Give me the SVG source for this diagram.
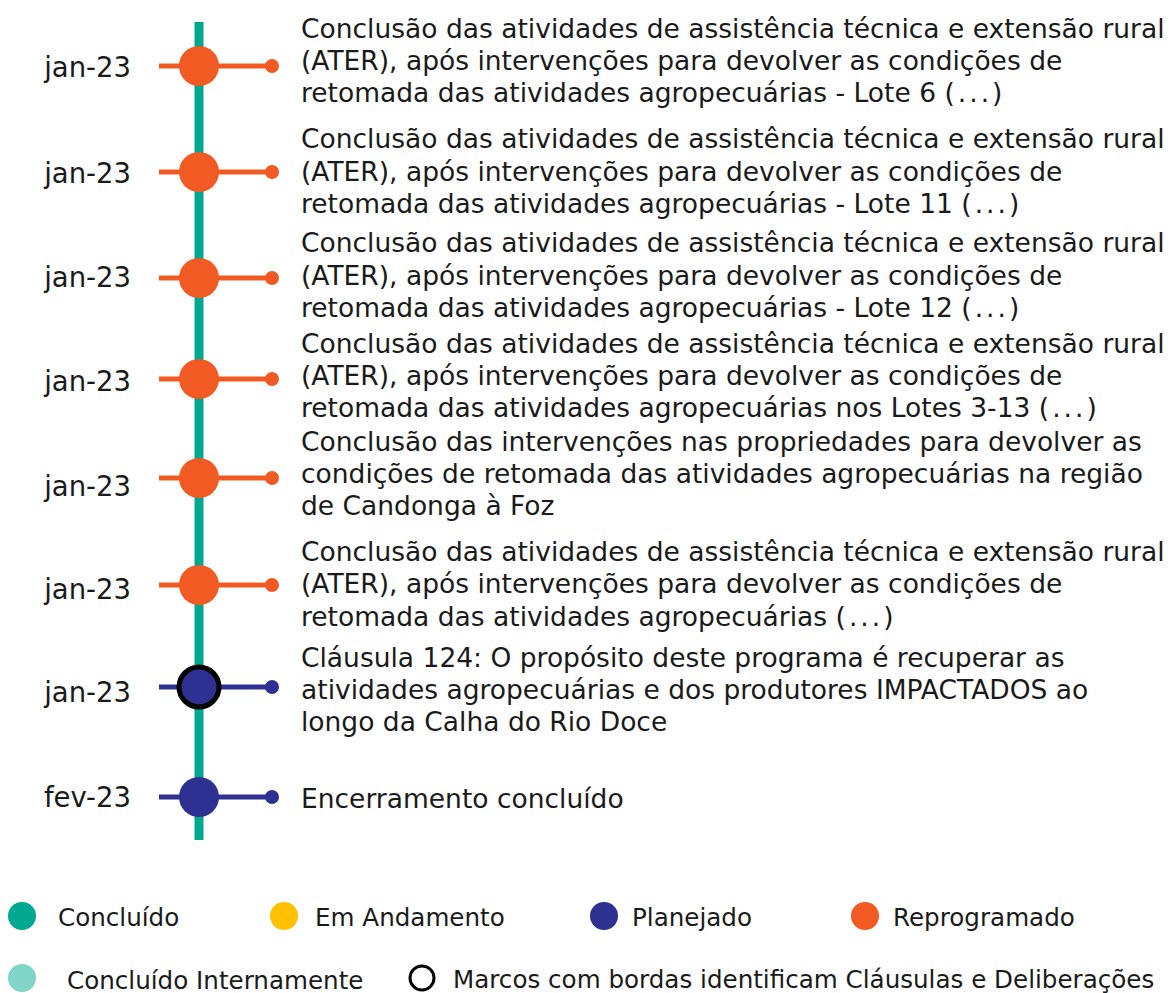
<svg xmlns="http://www.w3.org/2000/svg" width="1172" height="993" viewBox="0 0 1172 993">
<style>
.t{font-family:"DejaVu Sans",Verdana,sans-serif;font-size:26.5px;fill:#1a1a1a}
.d{font-family:"DejaVu Sans",Verdana,sans-serif;font-size:27.5px;fill:#1a1a1a;text-anchor:end}
.l{font-family:"DejaVu Sans",Verdana,sans-serif;font-size:24.6px;fill:#1a1a1a}
.e{letter-spacing:3px}
.ro{stroke:#F15A22;stroke-width:5}
.rb{stroke:#2E3192;stroke-width:5}
.fo{fill:#F15A22}
.fb{fill:#2E3192}
</style>
<rect width="1172" height="993" fill="#ffffff"/>
<g id="connectors">
<line x1="199" y1="22" x2="199" y2="840" stroke="#00A88F" stroke-width="9"/>
<line class="ro" x1="159" y1="66" x2="272" y2="66"/>
<line class="ro" x1="159" y1="172" x2="272" y2="172"/>
<line class="ro" x1="159" y1="278" x2="272" y2="278"/>
<line class="ro" x1="159" y1="379" x2="272" y2="379"/>
<line class="ro" x1="159" y1="478" x2="272" y2="478"/>
<line class="ro" x1="159" y1="585" x2="272" y2="585"/>
<line class="rb" x1="159" y1="687" x2="272" y2="687"/>
<line class="rb" x1="159" y1="797" x2="272" y2="797"/>
</g>
<g id="node1">
<circle class="fo" cx="199" cy="66" r="20"/><circle class="fo" cx="272" cy="66" r="7"/>
<text class="d" x="131" y="77">jan-23</text>
<text class="t" x="301" y="38">Conclusão das atividades de assistência técnica e extensão rural</text>
<text class="t" x="301" y="70">(ATER), após intervenções para devolver as condições de</text>
<text class="t" x="301" y="102">retomada das atividades agropecuárias - Lote 6 <tspan class="e">(...)</tspan></text>
</g>
<g id="node2">
<circle class="fo" cx="199" cy="172" r="20"/><circle class="fo" cx="272" cy="172" r="7"/>
<text class="d" x="131" y="183">jan-23</text>
<text class="t" x="301" y="148">Conclusão das atividades de assistência técnica e extensão rural</text>
<text class="t" x="301" y="181">(ATER), após intervenções para devolver as condições de</text>
<text class="t" x="301" y="213">retomada das atividades agropecuárias - Lote 11 <tspan class="e">(...)</tspan></text>
</g>
<g id="node3">
<circle class="fo" cx="199" cy="278" r="20"/><circle class="fo" cx="272" cy="278" r="7"/>
<text class="d" x="131" y="287">jan-23</text>
<text class="t" x="301" y="252">Conclusão das atividades de assistência técnica e extensão rural</text>
<text class="t" x="301" y="285">(ATER), após intervenções para devolver as condições de</text>
<text class="t" x="301" y="317">retomada das atividades agropecuárias - Lote 12 <tspan class="e">(...)</tspan></text>
</g>
<g id="node4">
<circle class="fo" cx="199" cy="379" r="20"/><circle class="fo" cx="272" cy="379" r="7"/>
<text class="d" x="131" y="391">jan-23</text>
<text class="t" x="301" y="353">Conclusão das atividades de assistência técnica e extensão rural</text>
<text class="t" x="301" y="385">(ATER), após intervenções para devolver as condições de</text>
<text class="t" x="301" y="417">retomada das atividades agropecuárias nos Lotes 3-13 <tspan class="e">(...)</tspan></text>
</g>
<g id="node5">
<circle class="fo" cx="199" cy="478" r="20"/><circle class="fo" cx="272" cy="478" r="7"/>
<text class="d" x="131" y="496">jan-23</text>
<text class="t" x="301" y="451">Conclusão das intervenções nas propriedades para devolver as</text>
<text class="t" x="301" y="483">condições de retomada das atividades agropecuárias na região</text>
<text class="t" x="301" y="515">de Candonga à Foz</text>
</g>
<g id="node6">
<circle class="fo" cx="199" cy="585" r="20"/><circle class="fo" cx="272" cy="585" r="7"/>
<text class="d" x="131" y="599">jan-23</text>
<text class="t" x="301" y="561">Conclusão das atividades de assistência técnica e extensão rural</text>
<text class="t" x="301" y="593">(ATER), após intervenções para devolver as condições de</text>
<text class="t" x="301" y="626">retomada das atividades agropecuárias <tspan class="e">(...)</tspan></text>
</g>
<g id="node7">
<circle class="fb" cx="199" cy="687" r="20" stroke="#000000" stroke-width="5"/><circle class="fb" cx="272" cy="687" r="7"/>
<text class="d" x="131" y="702">jan-23</text>
<text class="t" x="301" y="667">Cláusula 124: O propósito deste programa é recuperar as</text>
<text class="t" x="301" y="699">atividades agropecuárias e dos produtores IMPACTADOS ao</text>
<text class="t" x="301" y="731">longo da Calha do Rio Doce</text>
</g>
<g id="node8">
<circle class="fb" cx="199" cy="797" r="20"/><circle class="fb" cx="272" cy="797" r="7"/>
<text class="d" x="131" y="807">fev-23</text>
<text class="t" x="301" y="808">Encerramento concluído</text>
</g>
<g id="legend">
<circle cx="22" cy="916" r="14" fill="#00A88F"/>
<text class="l" x="58" y="926">Concluído</text>
<circle cx="284" cy="916" r="14" fill="#FFC000"/>
<text class="l" x="315" y="926">Em Andamento</text>
<circle cx="604" cy="916" r="14" fill="#2E3192"/>
<text class="l" x="632" y="926">Planejado</text>
<circle cx="865" cy="916" r="14" fill="#F15A22"/>
<text class="l" x="893" y="926">Reprogramado</text>
<circle cx="22" cy="978" r="14" fill="#80D4C8"/>
<text class="l" x="67" y="989">Concluído Internamente</text>
<circle cx="422" cy="978" r="12" fill="none" stroke="#000000" stroke-width="3"/>
<text class="l" x="453" y="988">Marcos com bordas identificam Cláusulas e Deliberações</text>
</g>
</svg>
